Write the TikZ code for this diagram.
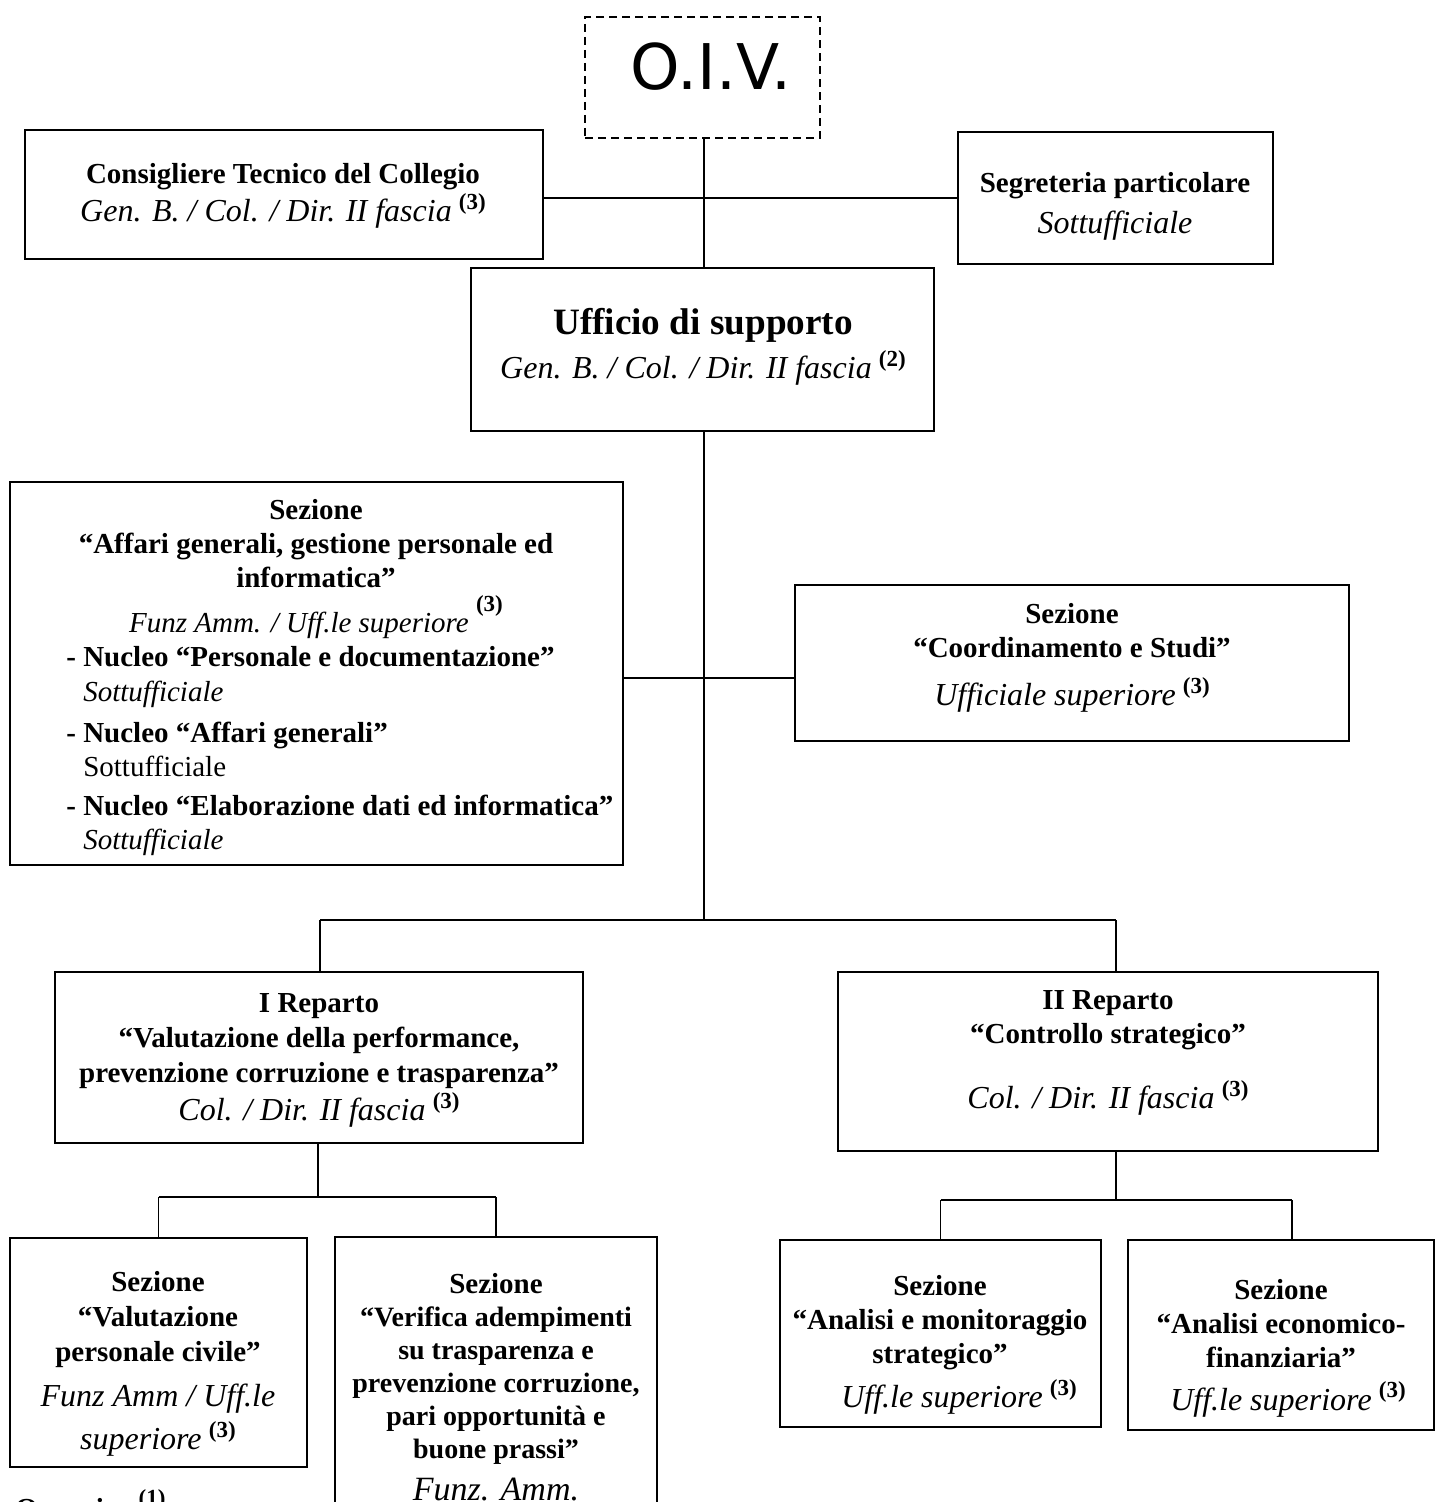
\documentclass[tikz,border=0pt]{standalone}
\usepackage{fontspec}
\setmainfont{Liberation Serif}
\newfontfamily\oivfont{DejaVu Sans}
\newcommand\sups[1]{\raisebox{0.42em}{\fontsize{11.5}{11.5}\selectfont\bfseries\upshape(#1)}}
\newcommand\itl[1]{{\normalfont\itshape\fontsize{16}{17}\selectfont #1}}
\newcommand\orgbox[6][]{\node[boxst,#1,minimum width={(#5-#3)*0.5pt},minimum height={(#6-#4)*0.5pt}] (#2) at ({(#3+#5)/2},{(#4+#6)/2}) {};}
\begin{document}
\begin{tikzpicture}[x=0.5pt,y=-0.5pt,
  boxst/.style={draw, line width=0.95pt, inner sep=0pt, rectangle},
  conn/.style={line width=0.7pt},
  txt/.style={inner sep=0pt, align=center, font=\bfseries\fontsize{14.5}{17}\selectfont},
]
\useasboundingbox[fill=white] (0,0) rectangle (1445,1502);

% boxes
\orgbox[dash pattern=on 4pt off 2.5pt]{oiv}{585}{17}{820}{138}
\orgbox{cons}{25}{130}{543}{259}
\orgbox{seg}{958}{132}{1273}{264}
\orgbox{uff}{471}{268}{934}{431}
\orgbox{aff}{10}{482}{623}{865}
\orgbox{coord}{795}{585}{1349}{741}
\orgbox{rep1}{55}{972}{583}{1143}
\orgbox{rep2}{838}{972}{1378}{1151}
\orgbox{val}{10}{1238}{307}{1467}
\orgbox{ver}{335}{1237}{657}{1560}
\orgbox{an1}{780}{1240}{1101}{1427}
\orgbox{an2}{1128}{1240}{1434}{1430}

% texts
\node[inner sep=0pt, font=\oivfont\fontsize{31.5}{31.5}\selectfont] (oiv-t) at (711,67) {O.I.V.};
\node[txt] (cons-t) at (283,196) {Consigliere Tecnico del Collegio\\[1pt] \itl{Gen. B. / Col. / Dir. II fascia}~\sups{3}};
\node[txt] (seg-t) at (1115,206) {Segreteria particolare\\[3.5pt] \itl{Sottufficiale}};
\node[txt] (uff-t) at (703,347) {{\fontsize{18.6}{20}\selectfont Ufficio di supporto}\\[3pt] \itl{Gen. B. / Col. / Dir. II fascia}~\sups{2}};
\node[txt] (aff-t) at (316,569) {Sezione\\ “Affari generali, gestione personale ed\\ informatica”\\[3pt] {\normalfont\itshape\fontsize{14.5}{17}\selectfont Funz Amm. / Uff.le superiore}~\raisebox{0.3em}{\sups{3}}};
\node[txt, align=left, anchor=west] (aff-l) at (66,751) {%
 - Nucleo “Personale e documentazione”\\[0.5pt]
 \phantom{- }{\normalfont\itshape Sottufficiale}\\[3.5pt]
 - Nucleo “Affari generali”\\
 \phantom{- }{\normalfont Sottufficiale}\\[2.5pt]
 - Nucleo “Elaborazione dati ed informatica”\\
 \phantom{- }{\normalfont\itshape Sottufficiale}};
\node[txt] (coord-t) at (1072,658) {Sezione\\ “Coordinamento e Studi”\\[7pt] \itl{Ufficiale superiore}~\sups{3}};
\node[txt, font=\bfseries\fontsize{14.5}{17.7}\selectfont] (rep1-t) at (319,1060) {I Reparto\\ “Valutazione della performance,\\ prevenzione corruzione e trasparenza”\\[1pt] \itl{Col. / Dir. II fascia}~\sups{3}};
\node[txt] (rep2-t) at (1108,1053) {II Reparto\\ “Controllo strategico”\\[14pt] \itl{Col. / Dir. II fascia}~\sups{3}};
\node[txt, font=\bfseries\fontsize{14.5}{17.5}\selectfont] (val-t) at (158,1364) {Sezione\\ “Valutazione\\ personale civile”\\[5pt] \itl{Funz Amm / Uff.le}\\[4pt] \itl{superiore}~\sups{3}};
\node[txt, font=\bfseries\fontsize{14}{16.5}\selectfont] (ver-t) at (496,1387) {{\fontsize{14.5}{16.5}\selectfont Sezione}\\ “Verifica adempimenti\\ su trasparenza e\\ prevenzione corruzione,\\ pari opportunità e\\ buone prassi”\\[4.5pt] {\normalfont\itshape\fontsize{17}{17}\selectfont Funz. Amm.}};
\node[txt] (an1-t) at (940,1345) {Sezione\\ “Analisi e monitoraggio\\ strategico”\\[3.5pt] \hspace*{19pt}\itl{Uff.le superiore}~\sups{3}};
\node[txt] (an2-t) at (1281,1348) {Sezione\\ “Analisi economico-\\ finanziaria”\\[4.5pt] \hspace*{7pt}\itl{Uff.le superiore}~\sups{3}};
\node[txt, anchor=base west] (org) at (15,1518) {Organico~\sups{1}};

% connectors
\coordinate (hc) at (704,198);
\coordinate (j1) at (704,920);
\coordinate (j2) at (704,678);
\coordinate (h1) at (320,920);
\coordinate (h2) at (1116,920);
\coordinate (k1) at (318,1197);
\coordinate (k2) at (1116,1200);
\draw[conn] (oiv.south -| j1) -- (uff.north -| j1);
\draw[conn] (cons.east |- hc) -- (seg.west |- hc);
\draw[conn] (uff.south -| j1) -- (j1);
\draw[conn] (aff.east |- j2) -- (coord.west |- j2);
\draw[conn] (h1) -- (h2);
\draw[conn] (h1) -- (rep1.north -| h1);
\draw[conn] (h2) -- (rep2.north -| h2);
\draw[conn] (rep1.south -| k1) -- (k1);
\draw[conn] (val.north |- k1) -- (ver.north |- k1);
\draw[conn] (val.north |- k1) -- (val.north);
\draw[conn] (ver.north |- k1) -- (ver.north);
\draw[conn] (rep2.south -| k2) -- (k2);
\draw[conn] (an1.north |- k2) -- ([xshift=5.5pt]an2.north |- k2);
\draw[conn] (an1.north |- k2) -- (an1.north);
\draw[conn] ([xshift=5.5pt]an2.north |- k2) -- ([xshift=5.5pt]an2.north);
\end{tikzpicture}
\end{document}
